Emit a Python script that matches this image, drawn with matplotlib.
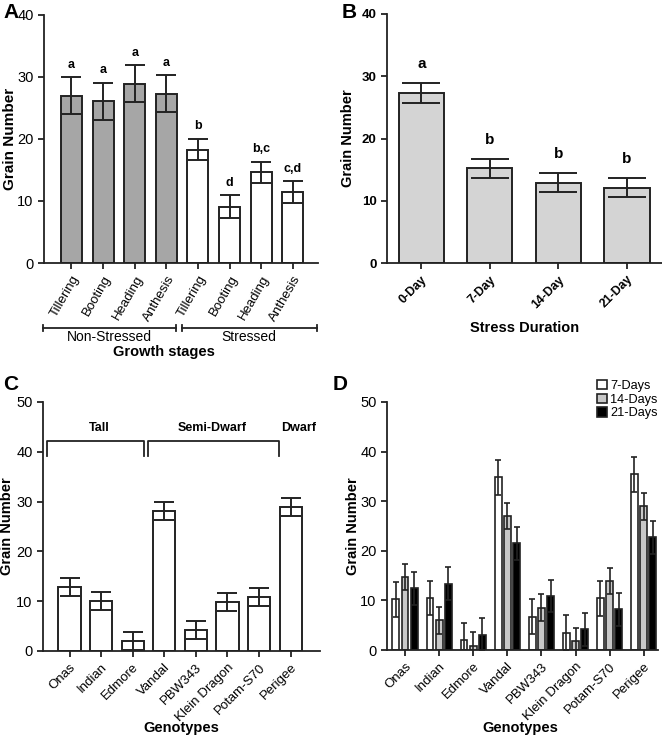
import matplotlib
matplotlib.use("Agg")
import matplotlib.pyplot as plt
import numpy as np

plt.rcParams['font.family'] = ['Liberation Sans', 'DejaVu Sans']

# Panel A
stages = ["Tillering", "Booting", "Heading", "Anthesis"]
a_nonstress = [27.0, 26.1, 28.9, 27.3]
a_nonstress_err = [3.0, 3.0, 3.0, 3.0]
a_stress = [18.3, 9.1, 14.6, 11.4]
a_stress_err = [1.75, 1.8, 1.75, 1.75]
a_letters = ["a", "a", "a", "a", "b", "d", "b,c", "c,d"]

# Panel B
durations = ["0-Day", "7-Day", "14-Day", "21-Day"]
b_vals = [27.3, 15.2, 12.9, 12.1]
b_err = [1.6, 1.5, 1.5, 1.5]
b_letters = ["a", "b", "b", "b"]

# Panel C
genotypes = ["Onas", "Indian", "Edmore", "Vandal", "PBW343", "Klein Dragon", "Potam-S70", "Perigee"]
c_vals = [12.9, 10.0, 2.1, 28.1, 4.3, 9.9, 10.9, 29.0]
c_err = [1.8, 1.8, 1.8, 1.8, 1.8, 1.8, 1.8, 1.8]

# Panel D
d_labels = ["7-Days", "14-Days", "21-Days"]
d_7 = [10.2, 10.5, 2.0, 34.8, 6.7, 3.5, 10.4, 35.4]
d_7_err = [3.5, 3.5, 3.4, 3.5, 3.5, 3.5, 3.5, 3.5]
d_14 = [14.7, 6.0, 0.9, 27.0, 8.5, 1.8, 13.9, 29.0]
d_14_err = [2.7, 2.7, 2.7, 2.7, 2.7, 2.7, 2.7, 2.7]
d_21 = [12.4, 13.4, 3.1, 21.5, 10.9, 4.2, 8.2, 22.7]
d_21_err = [3.3, 3.3, 3.3, 3.3, 3.3, 3.3, 3.3, 3.3]

W, H = 662, 737
fig = plt.figure(figsize=(W / 100, H / 100), dpi=100)

def ax_px(l, r, t, b):
    return fig.add_axes([l / W, 1 - b / H, (r - l) / W, (b - t) / H])

def style(ax):
    for s in ["top", "right"]:
        ax.spines[s].set_visible(False)
    for s in ["left", "bottom"]:
        ax.spines[s].set_linewidth(1.3)
        ax.spines[s].set_color("#222222")
    ax.tick_params(width=1.3, length=4, color="#222222")

lw = 1.4
ekw = dict(elinewidth=1.4, capthick=1.4, ecolor="#222222")

# ---------- A ----------
axA = ax_px(44, 318, 15, 263)
style(axA)
xa = np.arange(8)
vals_a = a_nonstress + a_stress
errs_a = a_nonstress_err + a_stress_err
cols_a = ["#a6a6a6"] * 4 + ["white"] * 4
axA.bar(xa, vals_a, width=0.66, color=cols_a, edgecolor="#222222", linewidth=lw,
        yerr=errs_a, capsize=7, error_kw=ekw, zorder=2)
for xi, v, e, t in zip(xa, vals_a, errs_a, a_letters):
    axA.text(xi, v + e + 1.0, t, ha="center", va="bottom", fontsize=9, fontweight="bold")
axA.set_xlim(-0.87, 7.8)
axA.set_ylim(0, 40)
axA.set_yticks([0, 10, 20, 30, 40])
axA.tick_params(axis="y", labelsize=10.5)
axA.set_xticks(xa)
axA.set_xticklabels(stages + stages, rotation=60, ha="right", rotation_mode="anchor", fontsize=9.5)
axA.set_ylabel("Grain Number", fontsize=11, fontweight="bold")
axA.yaxis.set_label_coords(-0.099, 0.5)
# group lines
def hbracket(x0, x1, y):
    fig.add_artist(plt.Line2D([x0 / W, x1 / W], [1 - y / H, 1 - y / H], color="#222222", lw=1.3))
    for xx in (x0, x1):
        fig.add_artist(plt.Line2D([xx / W, xx / W], [1 - (y - 3) / H, 1 - (y + 3) / H], color="#222222", lw=1.3))
hbracket(43, 176, 328)
hbracket(182, 317, 328)
fig.text(109 / W, 1 - 337 / H, "Non-Stressed", ha="center", va="center", fontsize=10)
fig.text(249 / W, 1 - 337 / H, "Stressed", ha="center", va="center", fontsize=10)
fig.text(164 / W, 1 - 352 / H, "Growth stages", ha="center", va="center", fontsize=10.5, fontweight="bold")
fig.text(3 / W, 1 - 12 / H, "A", ha="left", va="center", fontsize=15, fontweight="bold")

# ---------- B ----------
axB = ax_px(387, 662, 14, 263)
style(axB)
xb = np.arange(4)
axB.bar(xb, b_vals, width=0.66, color="#d4d4d4", edgecolor="#222222", linewidth=lw,
        yerr=b_err, capsize=14, error_kw=ekw, zorder=2)
for xi, v, e, t in zip(xb, b_vals, b_err, b_letters):
    axB.text(xi, v + e + 2.0, t, ha="center", va="bottom", fontsize=11, fontweight="bold")
axB.set_xlim(-0.5, 3.51)
axB.set_ylim(0, 40)
axB.set_yticks([0, 10, 20, 30, 40])
axB.set_xticks(xb)
axB.set_xticklabels(durations, rotation=45, ha="right", rotation_mode="anchor", fontsize=8.8, fontweight="bold")
for lab in axB.get_yticklabels():
    lab.set_fontweight("bold")
axB.tick_params(axis="y", labelsize=9.5)
axB.set_ylabel("Grain Number", fontsize=10.5, fontweight="bold")
axB.yaxis.set_label_coords(-0.116, 0.5)
fig.text(525 / W, 1 - 328 / H, "Stress Duration", ha="center", va="center", fontsize=10.5, fontweight="bold")
fig.text(342 / W, 1 - 12 / H, "B", ha="left", va="center", fontsize=15, fontweight="bold")

# ---------- C ----------
axC = ax_px(43, 320, 402, 651)
style(axC)
xc = np.arange(8)
axC.bar(xc, c_vals, width=0.7, color="white", edgecolor="#222222", linewidth=lw,
        yerr=c_err, capsize=7, error_kw=ekw, zorder=2)
axC.set_xlim(-0.84, 7.93)
axC.set_ylim(0, 50)
axC.set_yticks([0, 10, 20, 30, 40, 50])
axC.tick_params(axis="y", labelsize=10.5)
axC.set_xticks(xc)
axC.set_xticklabels(genotypes, rotation=45, ha="right", rotation_mode="anchor", fontsize=9.5)
axC.set_ylabel("Grain Number", fontsize=10.5, fontweight="bold")
axC.yaxis.set_label_coords(-0.105, 0.5)
def cbracket(x0, x1):
    axC.plot([x0, x0, x1, x1], [39.2, 42.2, 42.2, 39.2], color="#222222", lw=1.3, clip_on=False)
cbracket(-0.7, 2.35)
cbracket(2.48, 6.63)
axC.text(0.95, 44.7, "Tall", ha="center", va="center", fontsize=9, fontweight="bold")
axC.text(4.5, 44.7, "Semi-Dwarf", ha="center", va="center", fontsize=9, fontweight="bold")
axC.text(7.25, 44.7, "Dwarf", ha="center", va="center", fontsize=9, fontweight="bold")
fig.text(181 / W, 1 - 728 / H, "Genotypes", ha="center", va="center", fontsize=10.5, fontweight="bold")
fig.text(3 / W, 1 - 385 / H, "C", ha="left", va="center", fontsize=15, fontweight="bold")

# ---------- D ----------
axD = ax_px(387, 658, 402, 650)
style(axD)
xd = np.arange(8)
bw = 0.2
off = 0.27
dkw = dict(elinewidth=1.2, capthick=1.2, ecolor="#222222")
axD.bar(xd - off, d_7, width=bw, color="white", edgecolor="#222222", linewidth=1.2,
        yerr=d_7_err, capsize=2.5, error_kw=dkw, label=d_labels[0], zorder=2)
axD.bar(xd, d_14, width=bw, color="#c8c8c8", edgecolor="#222222", linewidth=1.2,
        yerr=d_14_err, capsize=2.5, error_kw=dkw, label=d_labels[1], zorder=2)
axD.bar(xd + off, d_21, width=bw, color="black", edgecolor="#222222", linewidth=1.2,
        yerr=d_21_err, capsize=2.5, error_kw=dkw, label=d_labels[2], zorder=2)
axD.set_xlim(-0.53, 7.42)
axD.set_ylim(0, 50)
axD.set_yticks([0, 10, 20, 30, 40, 50])
axD.tick_params(axis="y", labelsize=10.5)
axD.set_xticks(xd)
axD.set_xticklabels(genotypes, rotation=45, ha="right", rotation_mode="anchor", fontsize=9.5)
axD.set_ylabel("Grain Number", fontsize=10.5, fontweight="bold")
axD.yaxis.set_label_coords(-0.10, 0.5)
leg = axD.legend(loc="upper left", bbox_to_anchor=(597 / W, 1 - 380 / H), bbox_transform=fig.transFigure,
                 frameon=False, fontsize=9.2,
                 handlelength=0.75, handleheight=0.75, handletextpad=0.3, labelspacing=0.12, borderpad=0.0,
                 borderaxespad=0.0)
fig.text(520 / W, 1 - 728 / H, "Genotypes", ha="center", va="center", fontsize=10.5, fontweight="bold")
fig.text(333 / W, 1 - 385 / H, "D", ha="left", va="center", fontsize=15, fontweight="bold")

fig.savefig("out.png", dpi=100)
